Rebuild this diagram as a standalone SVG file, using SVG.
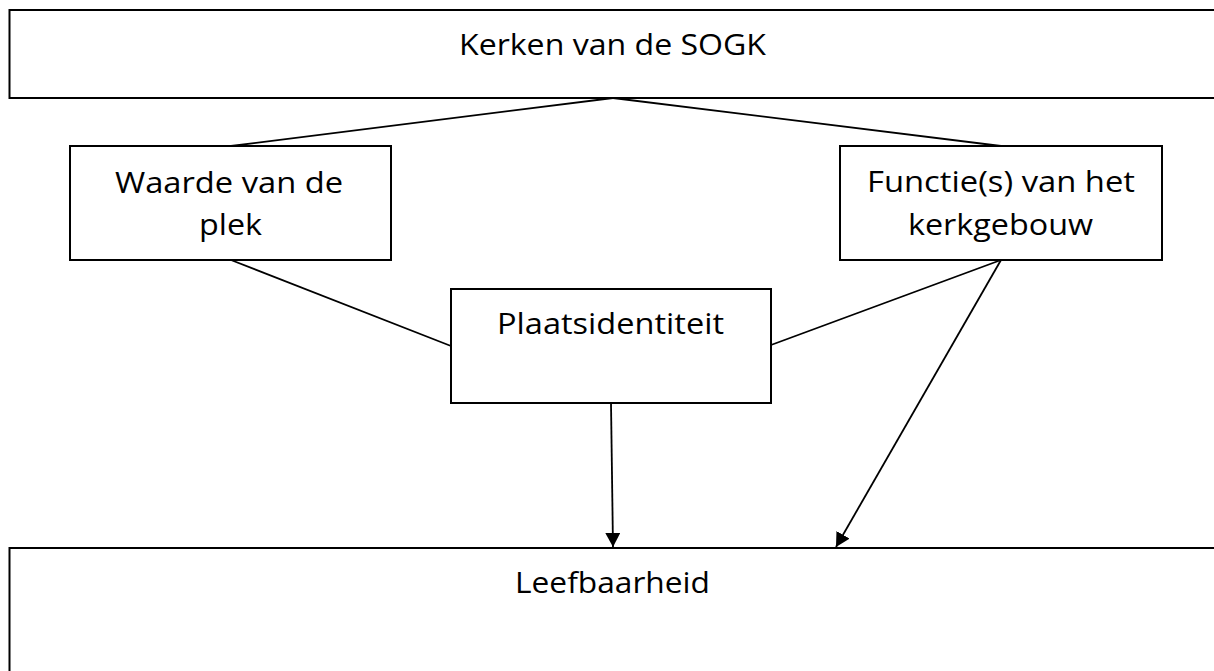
<svg xmlns="http://www.w3.org/2000/svg" width="1214" height="671" viewBox="0 0 1214 671">
<defs>
<style>
.box{fill:#fff;stroke:#000;stroke-width:2}
.lbl{font-family:"Open Sans","Liberation Sans",sans-serif;font-size:29px;fill:#000;text-anchor:middle}
.ln{stroke:#000;stroke-width:1.8;fill:none}
</style>
<marker id="arr" markerUnits="userSpaceOnUse" markerWidth="16" markerHeight="16" refX="14" refY="7.5" orient="auto" viewBox="0 0 16 16">
<path d="M0,0 L14,7.5 L0,15 z" fill="#000"/>
</marker>
</defs>
<rect width="1214" height="671" fill="#fff"/>
<g id="connectors">
<line class="ln" x1="613" y1="98" x2="231" y2="146"/>
<line class="ln" x1="613" y1="98" x2="1001" y2="146"/>
<line class="ln" x1="231" y1="260" x2="451" y2="346"/>
<line class="ln" x1="1001" y1="260" x2="771" y2="345"/>
<line class="ln" x1="611" y1="403" x2="613" y2="547" marker-end="url(#arr)"/>
<line class="ln" x1="1001" y1="260" x2="836" y2="547" marker-end="url(#arr)"/>
</g>
<g id="kerken">
<rect class="box" x="9.5" y="10" width="1210" height="88"/>
<text class="lbl" x="612.5" y="55" textLength="307" lengthAdjust="spacingAndGlyphs">Kerken van de SOGK</text>
</g>
<g id="waarde">
<rect class="box" x="70" y="146" width="321" height="114"/>
<text class="lbl" x="229" y="193" textLength="228" lengthAdjust="spacingAndGlyphs">Waarde van de</text>
<text class="lbl" x="230.5" y="235" textLength="63" lengthAdjust="spacingAndGlyphs">plek</text>
</g>
<g id="functie">
<rect class="box" x="840" y="146" width="322" height="114"/>
<text class="lbl" x="1001" y="192" textLength="268" lengthAdjust="spacingAndGlyphs">Functie(s) van het</text>
<text class="lbl" x="1000.5" y="235" textLength="185" lengthAdjust="spacingAndGlyphs">kerkgebouw</text>
</g>
<g id="plaats">
<rect class="box" x="451" y="289" width="320" height="114"/>
<text class="lbl" x="610.5" y="334" textLength="227" lengthAdjust="spacingAndGlyphs">Plaatsidentiteit</text>
</g>
<g id="leefbaarheid">
<rect class="box" x="9.5" y="548" width="1210" height="200"/>
<text class="lbl" x="612.5" y="593" textLength="195" lengthAdjust="spacingAndGlyphs">Leefbaarheid</text>
</g>
</svg>
